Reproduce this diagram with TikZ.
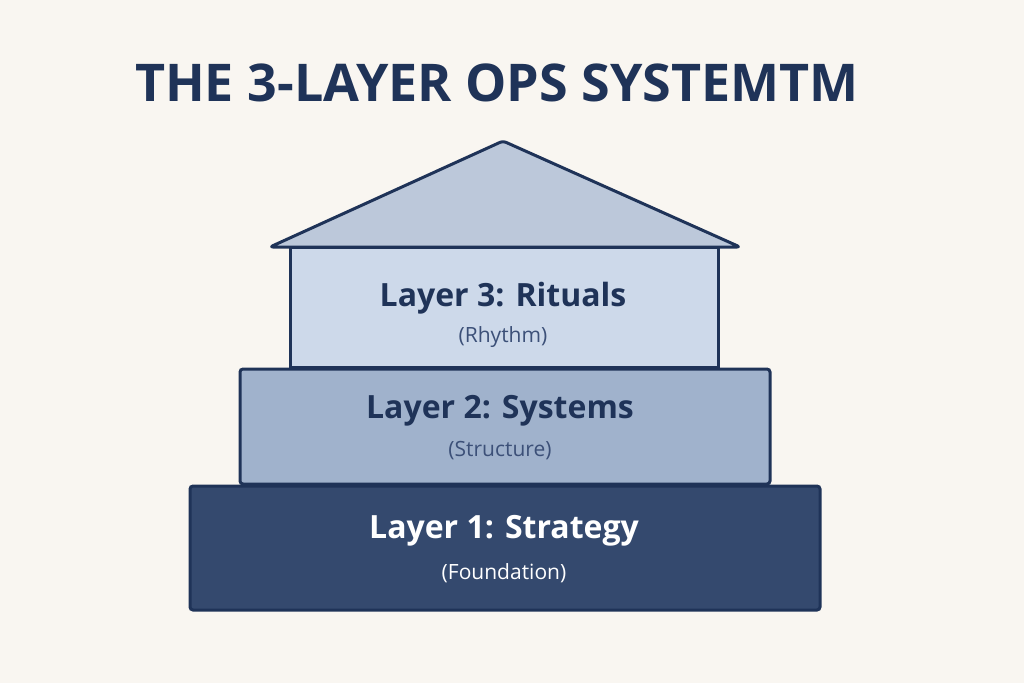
\documentclass[tikz,border=0pt]{standalone}
\usepackage{fontspec}
\setmainfont{Open Sans}
\definecolor{bgc}{HTML}{F9F6F1}
\definecolor{navy}{HTML}{1F3358}
\definecolor{roofc}{HTML}{BCC8DA}
\definecolor{lthree}{HTML}{CDD9EA}
\definecolor{ltwo}{HTML}{A0B2CC}
\definecolor{lone}{HTML}{34496E}
\definecolor{subc}{HTML}{3C5078}
\begin{document}
\begin{tikzpicture}[x=1pt,y=-1pt,
	layer/.style = {draw=navy, line width=3pt, rounded corners=3pt},
	head/.style = {font=\fontsize{32}{36}\selectfont\bfseries, text=navy},
	sub/.style = {font=\fontsize{21}{24}\selectfont, text=subc}
     ]
		\fill[bgc] (0,0) rectangle (1024,683);
		\useasboundingbox (0,0) rectangle (1024,683);
		\node[text=navy, font=\fontsize{52}{58}\selectfont\bfseries] (title) at (497,83) {THE 3-LAYER OPS SYSTEMTM};
%
		\draw[layer, fill=lthree, rounded corners=0pt] (290,247) rectangle (718,367);
		\draw[layer, fill=roofc, line join=round] (270,247) -- (503,141) -- (740,247) -- cycle;
		\draw[layer, fill=ltwo] (240,369) rectangle (770,484);
		\draw[layer, fill=lone] (190,486) rectangle (820,610);
%
		\node[head] (l3) at (503,298) {Layer 3: Rituals};
		\node[sub] (s3) at (503,337) {(Rhythm)};
		\node[head] (l2) at (500,411) {Layer 2: Systems};
		\node[sub] (s2) at (500,451) {(Structure)};
		\node[head, text=white] (l1) at (504,531) {Layer 1: Strategy};
		\node[sub, text=white] (s1) at (504,573) {(Foundation)};
\end{tikzpicture}
\end{document}
